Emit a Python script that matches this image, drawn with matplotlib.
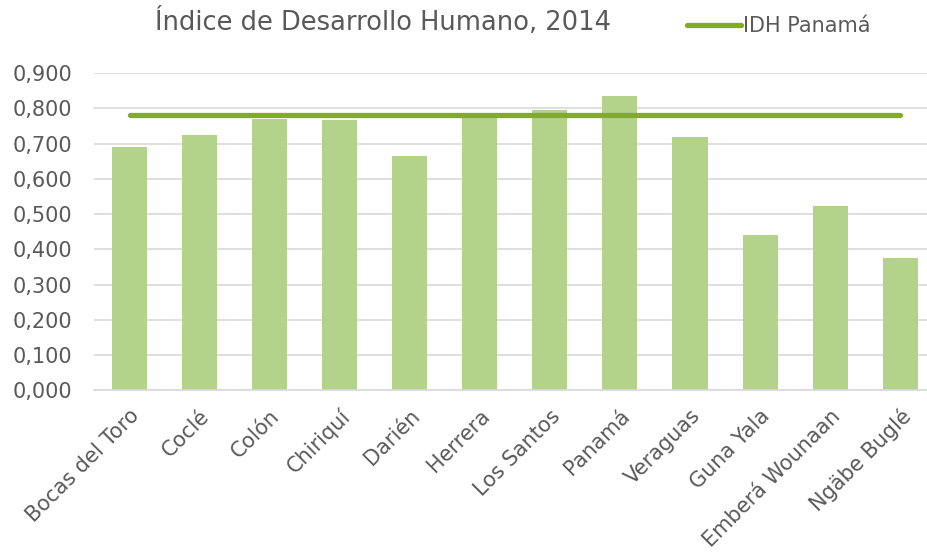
import matplotlib.pyplot as plt
import numpy as np

provincias = ['Bocas del Toro', 'Coclé', 'Colón', 'Chiriquí', 'Darién', 'Herrera',
              'Los Santos', 'Panamá', 'Veraguas', 'Guna Yala', 'Emberá Wounaan', 'Ngäbe Buglé']
idh = [0.691, 0.724, 0.770, 0.766, 0.664, 0.772, 0.794, 0.835, 0.718, 0.440, 0.522, 0.377]
idh_panama = 0.780
yticks = [0.0, 0.1, 0.2, 0.3, 0.4, 0.5, 0.6, 0.7, 0.8, 0.9]

gris = '#595959'
plt.rcParams['font.family'] = ['DejaVu Sans']

fig = plt.figure(figsize=(9.28, 5.55), dpi=100)
ax = fig.add_axes([0.1018, 0.2964, 0.906, 0.572])

x = np.arange(len(provincias))
ax.bar(x, idh, width=0.5, color='#B3D38A', zorder=2)
ax.plot(x, [idh_panama] * len(x), color='#82AD22', lw=3.8, solid_capstyle='round',
        zorder=3, label='IDH Panamá')

ax.set_xlim(-0.5, len(x) - 0.5)
ax.set_ylim(0, 0.9)
ax.set_yticks(yticks)
ax.set_yticklabels([f'{v:.3f}'.replace('.', ',') for v in yticks])
ax.set_xticks(x)
ax.set_xticklabels(provincias, rotation=45, ha='right', rotation_mode='anchor')
ax.tick_params(axis='both', length=0, colors=gris, labelsize=15)
ax.tick_params(axis='y', pad=16)
ax.tick_params(axis='x', pad=11)

ax.grid(axis='y', color='#D9D9D9', lw=1.2, zorder=0)
for s in ['top', 'right', 'left']:
    ax.spines[s].set_visible(False)
ax.spines['bottom'].set_color('#D9D9D9')
ax.spines['bottom'].set_linewidth(1.2)

fig.text(0.413, 0.96, 'Índice de Desarrollo Humano, 2014', ha='center', va='center',
         fontsize=18.5, color=gris)
fig.legend(loc='center left', bbox_to_anchor=(0.72, 0.953), frameon=False,
           fontsize=15, labelcolor=gris, handlelength=2.6, handletextpad=0.1)

fig.savefig('out.png', dpi=100)
